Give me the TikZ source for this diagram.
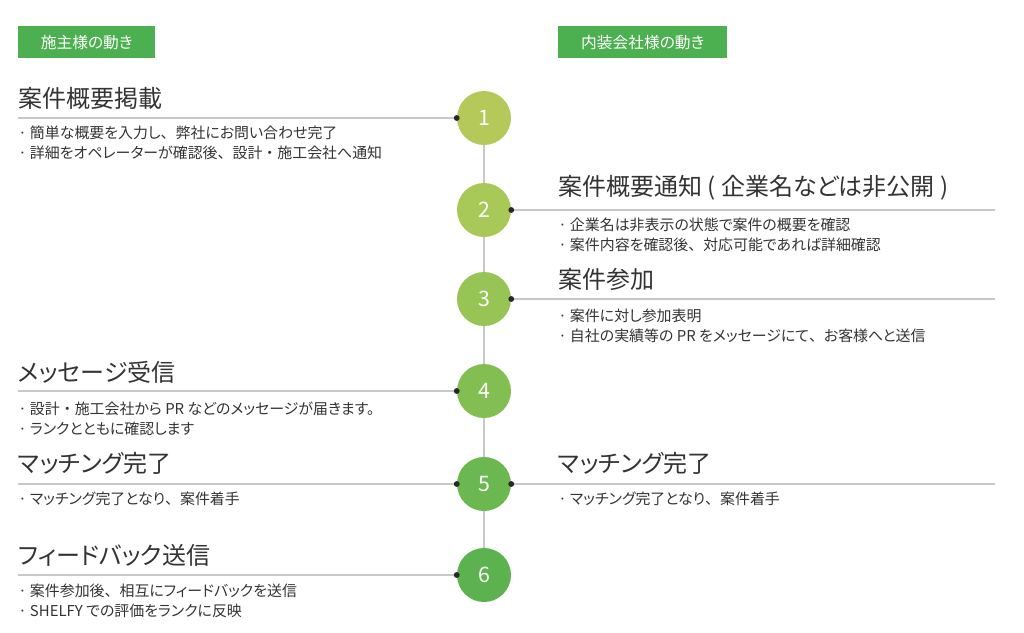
\documentclass[tikz,border=0pt]{standalone}
\usepackage{fontspec}
\setmainfont[RawFeature=+palt]{Noto Sans CJK JP}
\newfontfamily\fullwd{Noto Sans CJK JP}
\newcommand{\tenC}{{\fullwd 、}}
\newcommand{\dotC}{{\fullwd ・}}
\usetikzlibrary{positioning,calc}
\definecolor{hdCol}{RGB}{76,175,80}
\definecolor{ruleCol}{RGB}{200,200,200}
\definecolor{txtCol}{RGB}{51,51,51}
\definecolor{pinCol}{RGB}{40,40,40}
\definecolor{stA}{RGB}{181,201,90}
\definecolor{stB}{RGB}{168,200,88}
\definecolor{stC}{RGB}{150,196,85}
\definecolor{stD}{RGB}{131,190,83}
\definecolor{stE}{RGB}{108,184,80}
\definecolor{stF}{RGB}{91,178,78}
\tikzset{
  hdr/.style={fill=hdCol,text=white,anchor=north west,inner sep=0pt,
              minimum height=24pt,font=\fontsize{11.8}{13}\selectfont},
  stepdot/.style={circle,inner sep=0pt,minimum size=40.5pt,text=white,
              font=\fontsize{16}{18}\selectfont},
  ttl/.style={anchor=west,inner sep=0pt,text=txtCol,
              font=\fontsize{18}{21}\selectfont},
  bul/.style={anchor=base west,inner sep=0pt,align=left,text=txtCol,
              font=\fontsize{11.2}{15}\selectfont},
  rule/.style={draw=ruleCol,line width=1.1pt},
}

\begin{document}
\begin{tikzpicture}[x=0.75pt,y=-0.75pt]
    \useasboundingbox (0,0) rectangle (1024,632);
    % --- column headers ---
    \node[hdr,minimum width=102.75pt] (hdOwner) at (18,26) {施主様の動き};
    \node[hdr,minimum width=126.75pt] (hdFirm) at (558,26) {内装会社様の動き};
    % --- timeline ---
    \foreach \i/\y/\c in {1/118/stA,2/210/stB,3/299/stC,4/391/stD,5/484/stE,6/575/stF}
      \node[stepdot,fill=\c] (c\i) at (484,\y) {\i};
    \foreach \a/\b in {1/2,2/3,3/4,4/5,5/6} \draw[rule] (c\a) -- (c\b);
    % --- owner side (left) ---
    \foreach \i/\y in {1/118,4/391,5/484,6/575} {
      \coordinate (l\i) at (18,\y);
      \draw[rule] (l\i) -- (c\i.west);
      \fill[pinCol] (c\i.west) circle (2.2pt);
    }
    % (base of a two-line text is its last line)
    \node[ttl] (t1) at (18,98) {案件概要掲載};
    \node[bul] (b1) at (18,158.5) {· 簡単な概要を入力し\tenC 弊社にお問い合わせ完了\\· 詳細をオペレーターが確認後\tenC 設計\dotC 施工会社へ通知};
    \node[ttl] (t4) at (18,372) {メッセージ受信};
    \node[bul] (b4) at (18,434) {· 設計\dotC 施工会社から PR などのメッセージが届きます。\\· ランクとともに確認します};
    \node[ttl] (t5) at (18,463) {マッチング完了};
    \node[bul] (b5) at (18,504) {· マッチング完了となり\tenC 案件着手};
    \node[ttl] (t6) at (18,555) {フィードバック送信};
    \node[bul] (b6) at (18,616) {· 案件参加後\tenC 相互にフィードバックを送信\\· SHELFY での評価をランクに反映};
    % --- firm side (right) ---
    \foreach \i/\y in {2/210,3/299,5/484} {
      \coordinate (r\i) at (995,\y);
      \draw[rule] (c\i.east) -- (r\i);
      \fill[pinCol] (c\i.east) circle (2.2pt);
    }
    \node[ttl] (t2) at (558,188) {案件概要通知 ( 企業名などは非公開 )};
    \node[bul] (b2) at (558,250) {· 企業名は非表示の状態で案件の概要を確認\\· 案件内容を確認後\tenC 対応可能であれば詳細確認};
    \node[ttl] (t3) at (558,279) {案件参加};
    \node[bul] (b3) at (558,341) {· 案件に対し参加表明\\· 自社の実績等の PR をメッセージにて\tenC お客様へと送信};
    \node[ttl] (t5r) at (558,463) {マッチング完了};
    \node[bul] (b5r) at (558,504) {· マッチング完了となり\tenC 案件着手};
\end{tikzpicture}
\end{document}
